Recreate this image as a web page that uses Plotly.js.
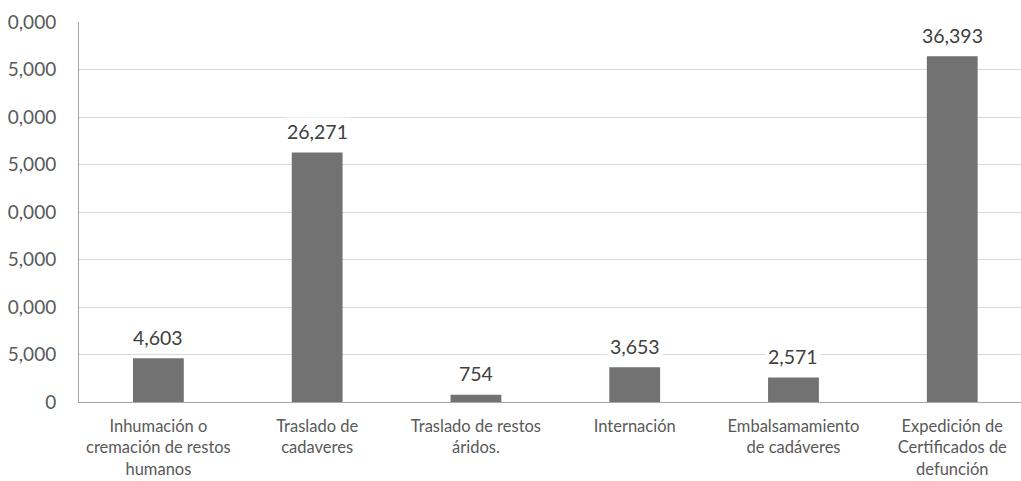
<!DOCTYPE html>
<html>
<head>
<meta charset="utf-8">
<script src="https://cdn.plot.ly/plotly-3.0.1.min.js"></script>
<style>
  html, body { margin: 0; padding: 0; background: #fff; overflow: hidden; }
  #chart { width: 1021px; height: 481px; }
</style>
</head>
<body>
<div id="chart"></div>
<script>
// Categories (as line-broken in the picture)
const categories = [
  "Inhumación o<br>cremación de restos<br>humanos",
  "Traslado de<br>cadaveres",
  "Traslado de restos<br>áridos.",
  "Internación",
  "Embalsamamiento<br>de cadáveres",
  "Expedición de<br>Certificados de<br>defunción"
];
// Series values
const values = [4603, 26271, 754, 3653, 2571, 36393];
// Data label texts
const valueLabels = ["4,603", "26,271", "754", "3,653", "2,571", "36,393"];
// Y tick values and labels as they appear (left edge of the picture is cropped)
const yTickVals = [0, 5000, 10000, 15000, 20000, 25000, 30000, 35000, 40000];
const yTickText = ["0", "5,000", "0,000", "5,000", "0,000", "5,000", "0,000", "5,000", "0,000"];

const FONT = "Lato, 'Open Sans', 'DejaVu Sans', sans-serif";

const trace = {
  type: "bar",
  x: categories,
  y: values,
  marker: { color: "#717271", line: { width: 0 } },
  hoverinfo: "none"
};

const annotations = categories.map((c, i) => ({
  x: c,
  y: values[i],
  xref: "x",
  yref: "y",
  text: valueLabels[i],
  showarrow: false,
  yanchor: "middle",
  yshift: 21,
  bgcolor: "#ffffff",
  borderpad: 2,
  font: { family: FONT, size: 19.5, color: "#404040" }
}));

const layout = {
  width: 1021,
  height: 481,
  margin: { l: 79, r: 0, t: 22, b: 79, pad: 0 },
  paper_bgcolor: "#ffffff",
  plot_bgcolor: "#ffffff",
  showlegend: false,
  bargap: 0.68,
  xaxis: {
    type: "category",
    range: [-0.5, 5.433],
    showgrid: false,
    zeroline: false,
    showline: true,
    linecolor: "#a6a6a6",
    linewidth: 1,
    ticks: "",
    ticklabelstandoff: 9,
    tickfont: { family: FONT, size: 16.5, color: "#595959" },
    fixedrange: true
  },
  yaxis: {
    range: [0, 40000],
    tickvals: yTickVals,
    ticktext: yTickText,
    showgrid: true,
    gridcolor: "#d9d9d9",
    gridwidth: 1,
    zeroline: false,
    showline: true,
    linecolor: "#a6a6a6",
    linewidth: 1,
    ticks: "",
    ticklabelstandoff: 18,
    tickfont: { family: FONT, size: 19, color: "#595959" },
    fixedrange: true
  },
  annotations: annotations
};

Plotly.newPlot("chart", [trace], layout, { displayModeBar: false, staticPlot: true });
</script>
</body>
</html>
